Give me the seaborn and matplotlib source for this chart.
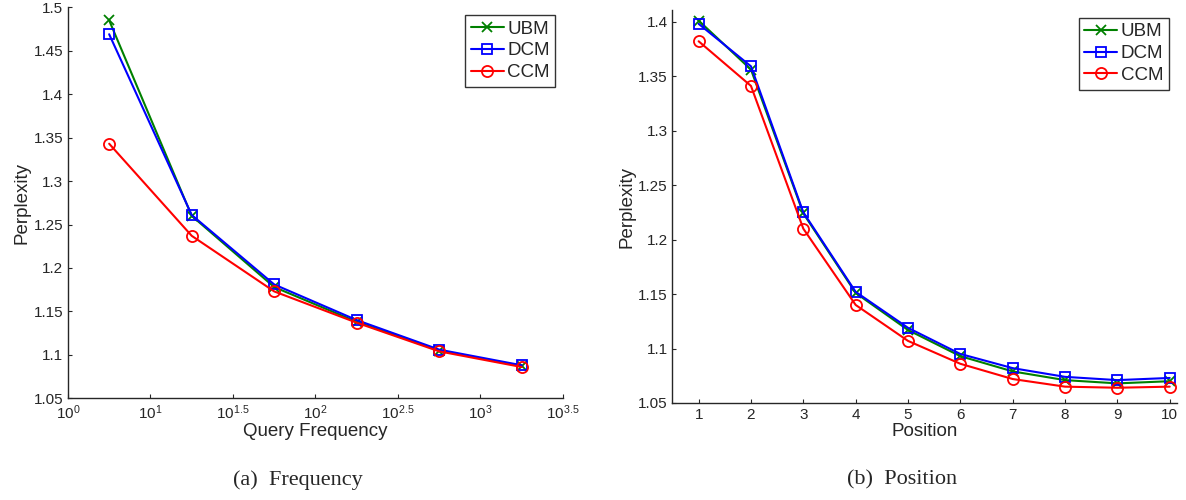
import pandas as pd
import matplotlib
matplotlib.use("Agg")
import matplotlib.pyplot as plt
import seaborn as sns

# (a) perplexity vs query frequency
freq = [5.62, 17.78, 56.23, 177.83, 562.34, 1778.28]
freq_ubm = [1.485, 1.260, 1.178, 1.138, 1.105, 1.087]
freq_dcm = [1.469, 1.261, 1.181, 1.140, 1.106, 1.088]
freq_ccm = [1.343, 1.237, 1.173, 1.137, 1.104, 1.086]
freq_ticks = [3.1623, 10, 31.623, 100, 316.23, 1000, 3162.3]
freq_ticklabels = [r'$10^0$', r'$10^1$', r'$10^{1.5}$', r'$10^2$', r'$10^{2.5}$', r'$10^3$', r'$10^{3.5}$']

# (b) perplexity vs position
pos = [1, 2, 3, 4, 5, 6, 7, 8, 9, 10]
pos_ubm = [1.401, 1.356, 1.224, 1.151, 1.117, 1.093, 1.079, 1.071, 1.068, 1.070]
pos_dcm = [1.398, 1.359, 1.225, 1.152, 1.119, 1.095, 1.082, 1.074, 1.071, 1.073]
pos_ccm = [1.382, 1.341, 1.210, 1.140, 1.107, 1.086, 1.072, 1.065, 1.064, 1.065]

models = ['UBM', 'DCM', 'CCM']
colors = {'UBM': '#008000', 'DCM': '#0000ff', 'CCM': '#ff0000'}
markers = {'UBM': 'x', 'DCM': 's', 'CCM': 'o'}
msizes = {'UBM': 7, 'DCM': 6.5, 'CCM': 8}

sns.set_style('ticks')
plt.rcParams['font.family'] = ['Liberation Sans', 'DejaVu Sans']
plt.rcParams['mathtext.default'] = 'regular'
plt.rcParams['xtick.direction'] = 'in'
plt.rcParams['ytick.direction'] = 'in'

fig = plt.figure(figsize=(11.86, 5), dpi=100)
ax1 = fig.add_axes([0.0573, 0.2034, 0.4174, 0.7820])
ax2 = fig.add_axes([0.5670, 0.1940, 0.4250, 0.7860])


def draw(ax, x, series):
    for name, vals in zip(models, series):
        df = pd.DataFrame({'x': x, 'y': vals})
        sns.lineplot(data=df, x='x', y='y', ax=ax, color=colors[name],
                     marker=markers[name], markersize=msizes[name],
                     markerfacecolor='none', markeredgecolor=colors[name],
                     markeredgewidth=1.3, linewidth=1.5, label=name)
    leg = ax.legend(loc='upper right', fontsize=13.5, frameon=True, fancybox=False,
                    edgecolor='black', handlelength=1.75, handletextpad=0.2,
                    labelspacing=0.25, borderpad=0.3, borderaxespad=0.4)
    leg.get_frame().set_linewidth(1.0)
    sns.despine(ax=ax)
    ax.tick_params(labelsize=11, length=3, width=0.8)
    for s in ['left', 'bottom']:
        ax.spines[s].set_linewidth(1.0)
    ax.set_ylabel('Perplexity', fontsize=13.5, labelpad=2)


draw(ax1, freq, [freq_ubm, freq_dcm, freq_ccm])
ax1.set_xscale('log')
ax1.set_xlim(3.1623, 3162.3)
ax1.set_xticks(freq_ticks)
ax1.set_xticklabels(freq_ticklabels)
ax1.xaxis.set_minor_locator(matplotlib.ticker.NullLocator())
ax1.set_ylim(1.05, 1.5)
ax1.set_yticks([1.05, 1.1, 1.15, 1.2, 1.25, 1.3, 1.35, 1.4, 1.45, 1.5])
ax1.set_yticklabels(['1.05', '1.1', '1.15', '1.2', '1.25', '1.3', '1.35', '1.4', '1.45', '1.5'])
ax1.set_xlabel('Query Frequency', fontsize=13.5, labelpad=1)

draw(ax2, pos, [pos_ubm, pos_dcm, pos_ccm])
ax2.set_xlim(0.5, 10.13)
ax2.set_xticks(pos)
ax2.set_ylim(1.05, 1.4107)
ax2.set_yticks([1.05, 1.1, 1.15, 1.2, 1.25, 1.3, 1.35, 1.4])
ax2.set_yticklabels(['1.05', '1.1', '1.15', '1.2', '1.25', '1.3', '1.35', '1.4'])
ax2.set_xlabel('Position', fontsize=13.5, labelpad=1)

fig.text(0.251, 0.04, '(a)  Frequency', ha='center', va='center',
         fontsize=16, family='Liberation Serif')
fig.text(0.761, 0.04, '(b)  Position', ha='center', va='center',
         fontsize=16, family='Liberation Serif')

plt.savefig('out.png', dpi=100)
